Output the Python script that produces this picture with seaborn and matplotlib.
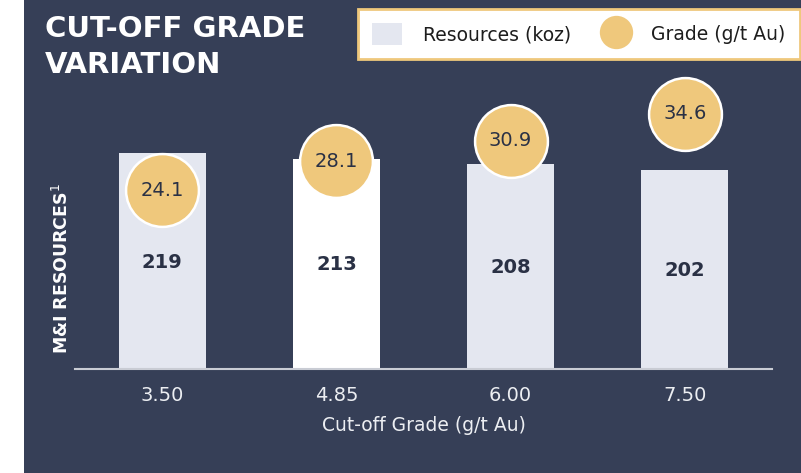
import matplotlib
matplotlib.use("Agg")
import matplotlib.pyplot as plt
import seaborn as sns
from matplotlib.patches import Rectangle, Patch
from matplotlib.lines import Line2D

# Dados
cutoff = ["3.50", "4.85", "6.00", "7.50"]
resources_koz = [219, 213, 208, 202]
grade_gpt = [24.1, 28.1, 30.9, 34.6]
bar_colors = ["#e4e7f0", "#ffffff", "#e4e7f0", "#e4e7f0"]

navy = "#363f57"
gold = "#efc87c"
dark_text = "#2a3145"

sns.set_theme(style="white")
plt.rcParams["font.family"] = ["DejaVu Sans"]
plt.rcParams["mathtext.fontset"] = "dejavusans"

fig = plt.figure(figsize=(8.01, 4.73), dpi=100)
fig.patch.set_facecolor("white")
fig.patches.append(Rectangle((24 / 801, 0), 1, 1, transform=fig.transFigure,
                             facecolor=navy, edgecolor="none", zorder=-10))

ax = fig.add_axes([75 / 801, 104 / 473, 697 / 801, 329 / 473])
ax.set_facecolor("none")

sns.barplot(x=cutoff, y=resources_koz, hue=cutoff, palette=bar_colors,
            width=0.5, legend=False, ax=ax, edgecolor="none", saturation=1)
ax.set_xlim(-0.5, 3.5)
ax.set_ylim(0, 333.7)

for i, v in enumerate(resources_koz):
    ax.text(i, v / 2 - 1, str(v), ha="center", va="center", fontsize=14,
            fontweight="bold", color=dark_text, zorder=5)

# Teor no eixo secundário
ax2 = ax.twinx()
sns.scatterplot(x=cutoff, y=grade_gpt, ax=ax2, s=2750, color=gold,
                edgecolor="white", linewidth=1.8, zorder=4, legend=False)
ax2.set_ylim(-0.62, 44.82)
for i, g in enumerate(grade_gpt):
    ax2.text(i, g, f"{g:.1f}", ha="center", va="center", fontsize=14,
             color=dark_text, zorder=6)

for a in (ax, ax2):
    for s in a.spines.values():
        s.set_visible(False)
    a.set_yticks([])
    a.set_ylabel("")
ax.spines["bottom"].set_visible(True)
ax.spines["bottom"].set_color("#c9ccd4")
ax.spines["bottom"].set_linewidth(1.5)

ax.tick_params(axis="x", length=0, labelsize=14, labelcolor="#eceef2", pad=12)
ax.set_xlabel("Cut-off Grade (g/t Au)", fontsize=13.5, color="#eceef2", labelpad=8)
ax.set_ylabel(r"M&I RESOURCES$^{\mathrm{1}}$", fontsize=12.5,
              fontweight="bold", color="white")
ax.yaxis.set_label_coords(-0.005, 0.305)

fig.text(45 / 801, 1 - 15 / 473, "CUT-OFF GRADE\nVARIATION", ha="left", va="top",
         fontsize=21, fontweight="bold", color="white", linespacing=1.35)

handles = [Patch(facecolor="#e4e7f0", edgecolor="none"),
           Line2D([], [], marker="o", linestyle="none", markersize=24,
                  markerfacecolor=gold, markeredgecolor="none")]
leg = fig.legend(handles, ["Resources (koz)", "Grade (g/t Au)"], ncol=2,
                 loc="upper left", bbox_to_anchor=(358 / 801, 1 - 9 / 473),
                 borderaxespad=0, fontsize=13.5, frameon=True, fancybox=False,
                 framealpha=1, handlelength=1.6, handleheight=1.4,
                 handletextpad=1.1, columnspacing=1.6, borderpad=0.75,
                 labelcolor="#1d1d1d")
leg.get_frame().set_edgecolor(gold)
leg.get_frame().set_linewidth(2)
leg.get_frame().set_facecolor("white")

fig.savefig("out.png", dpi=100)
